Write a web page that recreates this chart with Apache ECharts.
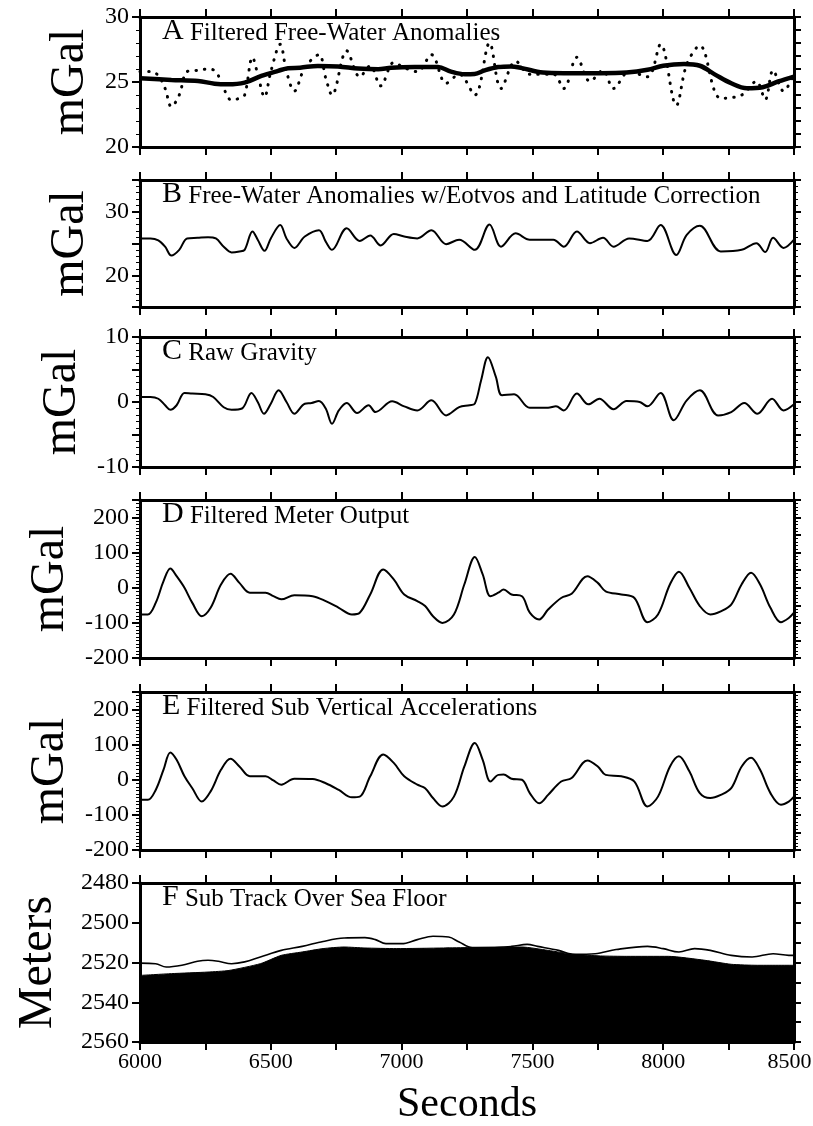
<!DOCTYPE html>
<html>
<head>
<meta charset="utf-8">
<script src="https://cdn.jsdelivr.net/npm/echarts/dist/echarts.min.js"></script>
<style>
  html, body { margin: 0; padding: 0; background: #fff; }
  #chart { width: 813px; height: 1126px; }
</style>
</head>
<body>
<div id="chart"></div>
<script>
// ---- data (seconds, value) ----
// A: filtered free-water anomalies (mGal), solid curve
const aTime  = [6000, 6120, 6222, 6285, 6336, 6400, 6464, 6528, 6566, 6612, 6680, 6757, 6834, 6910, 6960, 7050, 7139, 7189, 7241, 7279, 7318, 7369, 7418, 7460, 7540, 7620, 7760, 7860, 7940, 8000, 8080, 8140, 8200, 8260, 8320, 8380, 8440, 8500];
const aValue = [25.28, 25.16, 25.08, 24.87, 24.82, 24.95, 25.47, 25.86, 26.06, 26.1, 26.24, 26.2, 26.04, 25.98, 26.1, 26.15, 26.15, 25.8, 25.6, 25.62, 25.9, 26.15, 26.2, 26.07, 25.73, 25.68, 25.68, 25.73, 25.94, 26.25, 26.38, 26.25, 25.55, 24.9, 24.52, 24.6, 25.04, 25.42];

// B: free-water anomalies with Eotvos and latitude correction (mGal)
const bTime  = [6000, 6040, 6070, 6096, 6120, 6150, 6180, 6220, 6260, 6290, 6320, 6350, 6380, 6400, 6430, 6450, 6476, 6500, 6536, 6560, 6590, 6630, 6684, 6710, 6734, 6790, 6840, 6880, 6920, 6970, 7010, 7060, 7114, 7170, 7220, 7280, 7336, 7380, 7436, 7490, 7580, 7620, 7670, 7720, 7770, 7810, 7870, 7940, 7990, 8050, 8090, 8140, 8220, 8300, 8356, 8390, 8420, 8460, 8500];
const bValue = [25.8, 25.8, 25.5, 24.5, 23.1, 24.0, 25.8, 25.9, 26.0, 25.8, 24.5, 23.6, 23.75, 24.0, 26.9, 25.6, 23.85, 25.8, 27.9, 25.8, 24.3, 26.1, 27.1, 25.3, 24.0, 27.4, 25.4, 26.25, 24.7, 26.5, 26.1, 25.8, 27.1, 24.9, 25.6, 24.0, 28.0, 24.5, 26.6, 25.6, 25.6, 24.5, 26.9, 25.05, 25.9, 24.5, 25.8, 25.4, 27.9, 23.2, 26.35, 27.8, 23.75, 24.0, 25.05, 23.65, 25.9, 24.3, 25.6];

// C: raw gravity (mGal)
const cTime  = [6000, 6040, 6070, 6096, 6116, 6140, 6170, 6200, 6250, 6280, 6320, 6350, 6390, 6426, 6450, 6474, 6500, 6530, 6560, 6590, 6630, 6656, 6684, 6710, 6734, 6760, 6790, 6830, 6874, 6900, 6964, 7010, 7060, 7114, 7170, 7220, 7260, 7280, 7304, 7330, 7360, 7384, 7430, 7490, 7560, 7590, 7620, 7670, 7714, 7756, 7810, 7860, 7910, 7940, 7990, 8040, 8090, 8140, 8210, 8260, 8310, 8360, 8416, 8460, 8500];
const cValue = [0.77, 0.77, 0.5, -0.5, -1.2, -0.5, 1.4, 1.3, 1.2, 0.77, -0.8, -1.2, -1.0, 1.4, 0, -1.8, -0.26, 1.8, 0, -1.8, -0.26, -0.15, 0.15, -1.0, -3.35, -1.3, -0.15, -1.7, -0.5, -1.55, 0.1, -0.67, -1.3, 0.26, -2.06, -0.8, -0.5, -0.26, 3.35, 6.9, 3.9, 1.03, 1.2, -0.9, -0.9, -0.67, -1.3, 1.3, -0.36, 0.5, -1.1, 0.15, 0, -0.67, 1.4, -2.8, 0.26, 1.8, -2.06, -1.55, -0.15, -1.8, 0.5, -1.3, -0.36];

// D and E share one time base
const deTime = [6000, 6030, 6060, 6090, 6116, 6140, 6170, 6200, 6236, 6270, 6310, 6346, 6380, 6420, 6480, 6510, 6540, 6590, 6660, 6710, 6760, 6810, 6840, 6880, 6930, 6970, 7010, 7060, 7090, 7120, 7156, 7200, 7240, 7280, 7310, 7340, 7370, 7390, 7420, 7460, 7490, 7526, 7560, 7610, 7650, 7710, 7750, 7780, 7840, 7890, 7940, 7980, 8026, 8060, 8100, 8140, 8180, 8220, 8260, 8300, 8336, 8370, 8410, 8450, 8480, 8500];
// D: filtered meter output (mGal)
const dValue = [-76, -76, -43, 19, 55, 33, 0, -43, -81, -57, 10, 40, 14, -14, -14, -24, -33, -21, -24, -38, -57, -76, -71, -19, 52, 24, -19, -38, -52, -81, -100, -76, 10, 88, 38, -24, -14, -5, -19, -24, -71, -90, -62, -29, -17, 33, 14, -10, -19, -29, -98, -76, 10, 46, 0, -52, -76, -67, -48, 10, 43, 10, -57, -98, -86, -71];
// E: filtered sub vertical accelerations (mGal)
const eValue = [-57, -57, -29, 29, 78, 57, 10, -24, -62, -33, 29, 60, 38, 10, 10, -2, -14, 3, 2, -10, -29, -50, -48, 10, 72, 48, 10, -14, -24, -52, -76, -48, 38, 105, 57, -5, 14, 15, 3, 0, -38, -67, -43, -5, 5, 55, 38, 14, 10, -5, -76, -48, 38, 67, 24, -38, -52, -43, -24, 38, 63, 29, -38, -71, -62, -48];

// F: sea floor depth and sub track depth (meters)
const floorTime  = [6000, 6120, 6260, 6340, 6460, 6540, 6620, 6700, 6780, 6860, 6980, 7160, 7260, 7460, 7560, 7660, 7760, 7860, 8020, 8160, 8260, 8360, 8500];
const floorDepth = [2526.5, 2525.6, 2524.8, 2524, 2520.6, 2516.4, 2514.7, 2513, 2512.2, 2512.7, 2513, 2512.7, 2512.5, 2512.2, 2513.9, 2515.9, 2516.7, 2516.9, 2516.9, 2518.9, 2520.9, 2521.4, 2521.4];
const trackTime  = [6000, 6060, 6100, 6160, 6220, 6260, 6300, 6350, 6400, 6460, 6540, 6620, 6700, 6780, 6860, 6900, 6940, 7000, 7060, 7120, 7180, 7220, 7270, 7340, 7420, 7480, 7520, 7600, 7660, 7740, 7820, 7940, 8000, 8060, 8120, 8180, 8260, 8340, 8420, 8480, 8500];
const trackDepth = [2520.3, 2520.6, 2522.3, 2521.4, 2519.4, 2518.9, 2519.4, 2520.6, 2519.7, 2517.2, 2513.9, 2511.9, 2509.4, 2507.7, 2507.5, 2508.5, 2510.5, 2510.5, 2508.5, 2506.8, 2507.2, 2509.7, 2512.5, 2512.5, 2511.9, 2510.9, 2511.9, 2513.9, 2515.9, 2515.6, 2513.5, 2511.9, 2513, 2514.7, 2513, 2513.9, 2516.4, 2517.2, 2515.6, 2516.4, 2516.4];

// axis / panel text
const xTickStep = 250;
const xLabelStep = 500;
const xMin = 6000, xMax = 8500;
const panelTitles = [
  ['A', 'Filtered Free-Water Anomalies'],
  ['B', 'Free-Water Anomalies w/Eotvos and Latitude Correction'],
  ['C', 'Raw Gravity'],
  ['D', 'Filtered Meter Output'],
  ['E', 'Filtered Sub Vertical Accelerations'],
  ['F', 'Sub Track Over Sea Floor']
];
const yNames = ['mGal', 'mGal', 'mGal', 'mGal', 'mGal', 'Meters'];
const xName = 'Seconds';

// ---- layout ----
const FONT = "'Liberation Serif', 'Times New Roman', serif";
const panels = [
  { top: 17,  h: 130, min: 20,   max: 30,   iv: 5,   lab: 5,   minor: 5,  rIv: 1,  rMinor: 0, nameGap: 46 },
  { top: 180, h: 127, min: 15,   max: 35,   iv: 5,   lab: 10,  minor: 5,  rIv: 5,  rMinor: 5, nameGap: 46 },
  { top: 337, h: 130, min: -10,  max: 10,   iv: 5,   lab: 10,  minor: 5,  rIv: 5,  rMinor: 5, nameGap: 49 },
  { top: 500, h: 158, min: -200, max: 250,  iv: 100, lab: 100, minor: 10, rIv: 50, rMinor: 5, nameGap: 56 },
  { top: 692, h: 158, min: -200, max: 250,  iv: 100, lab: 100, minor: 10, rIv: 50, rMinor: 5, nameGap: 56 },
  { top: 883, h: 159, min: 2480, max: 2560, iv: 20,  lab: 20,  minor: 0,  rIv: 10, rMinor: 0, nameGap: 78, inverse: true }
];
const PLOT_LEFT = 140, PLOT_RIGHT = 19;
const Y_TICK_FONT = 24, X_TICK_FONT = 22;

const zip = (t, v) => t.map((s, i) => [s, v[i]]);
const black = '#000';

const grids = [], xAxes = [], yAxes = [], titles = [], series = [];

panels.forEach((p, i) => {
  grids.push({ left: PLOT_LEFT, right: PLOT_RIGHT, top: p.top, height: p.h, containLabel: false, outerBoundsMode: 'none' });
  const last = i === panels.length - 1;
  // bottom and top time axes
  [['bottom', last], ['top', false]].forEach(([pos, withLabels]) => {
    xAxes.push({
      type: 'value', gridIndex: i, position: pos, min: xMin, max: xMax, interval: xTickStep,
      axisLine: { show: true, onZero: false, lineStyle: { color: black, width: 3 } },
      axisTick: { show: true, inside: false, length: 8, lineStyle: { color: black, width: 2 } },
      axisLabel: {
        show: withLabels, margin: 9, color: black, fontFamily: FONT, fontSize: X_TICK_FONT,
        formatter: v => {
          if (v % xLabelStep !== 0) return '';
          // keep the last label inside the page edge
          return v === xMax ? '{edge|' + v + '}' : String(v);
        },
        rich: { edge: { fontFamily: FONT, fontSize: X_TICK_FONT, color: black, padding: [0, 9, 0, 0] } }
      },
      splitLine: { show: false },
      name: withLabels ? xName : '', nameLocation: 'middle', nameGap: 42,
      nameTextStyle: { color: black, fontFamily: FONT, fontSize: 42 }
    });
  });
  // left value axis with labels
  yAxes.push({
    type: 'value', gridIndex: i, position: 'left', min: p.min, max: p.max, interval: p.iv,
    inverse: !!p.inverse,
    axisLine: { show: true, onZero: false, lineStyle: { color: black, width: 3 } },
    axisTick: { show: true, inside: false, length: 8, lineStyle: { color: black, width: 2 } },
    minorTick: { show: p.minor > 0, splitNumber: p.minor || 5, length: 4, lineStyle: { color: black, width: 1 } },
    axisLabel: {
      margin: 11, color: black, fontFamily: FONT, fontSize: Y_TICK_FONT,
      formatter: v => (v % p.lab === 0 ? String(v) : '')
    },
    splitLine: { show: false },
    name: yNames[i], nameLocation: 'middle', nameGap: p.nameGap, nameRotate: 90,
    nameTextStyle: { color: black, fontFamily: FONT, fontSize: 48 }
  });
  // right frame axis, ticks only
  yAxes.push({
    type: 'value', gridIndex: i, position: 'right', min: p.min, max: p.max, interval: p.rIv,
    inverse: !!p.inverse,
    axisLine: { show: true, onZero: false, lineStyle: { color: black, width: 3 } },
    axisTick: { show: true, inside: false, length: 7, lineStyle: { color: black, width: 2 } },
    minorTick: { show: p.rMinor > 0, splitNumber: p.rMinor || 5, length: 4, lineStyle: { color: black, width: 1 } },
    axisLabel: { show: false },
    splitLine: { show: false }
  });
  titles.push({
    left: 157, top: p.top - 8,
    text: '{l|' + panelTitles[i][0] + '} {t|' + panelTitles[i][1] + '}',
    textStyle: {
      fontFamily: FONT, fontSize: 25, fontWeight: 'normal', color: black,
      rich: {
        l: { fontFamily: FONT, fontSize: 30, color: black, lineHeight: 32, verticalAlign: 'bottom' },
        t: { fontFamily: FONT, fontSize: 25, color: black, lineHeight: 32, verticalAlign: 'bottom' }
      }
    }
  });
});

const lineSeries = (grid, data, width, extra) => Object.assign({
  type: 'line', xAxisIndex: grid * 2, yAxisIndex: grid * 2, data: data,
  showSymbol: false, symbol: 'none', smooth: 0.35, animation: false,
  lineStyle: { color: black, width: width }
}, extra || {});

// A: raw anomaly as dots under the filtered curve
series.push(lineSeries(0, zip(bTime, bValue), 3, {
  lineStyle: { color: black, width: 3, type: [0.5, 8], cap: 'round' }
}));
series.push(lineSeries(0, zip(aTime, aValue), 4.5));
series.push(lineSeries(1, zip(bTime, bValue), 2));
series.push(lineSeries(2, zip(cTime, cValue), 2));
series.push(lineSeries(3, zip(deTime, dValue), 2));
series.push(lineSeries(4, zip(deTime, eValue), 2));
// F: sea floor filled down to the bottom of the panel, sub track on top
series.push(lineSeries(5, zip(floorTime, floorDepth), 1, {
  smooth: 0.2,
  areaStyle: { color: black, opacity: 1, origin: 'end' }
}));
series.push(lineSeries(5, zip(trackTime, trackDepth), 1.6));

const chart = echarts.init(document.getElementById('chart'), null, { renderer: 'canvas' });
chart.setOption({
  backgroundColor: '#fff',
  animation: false,
  title: titles,
  grid: grids,
  xAxis: xAxes,
  yAxis: yAxes,
  series: series
});
</script>
</body>
</html>
